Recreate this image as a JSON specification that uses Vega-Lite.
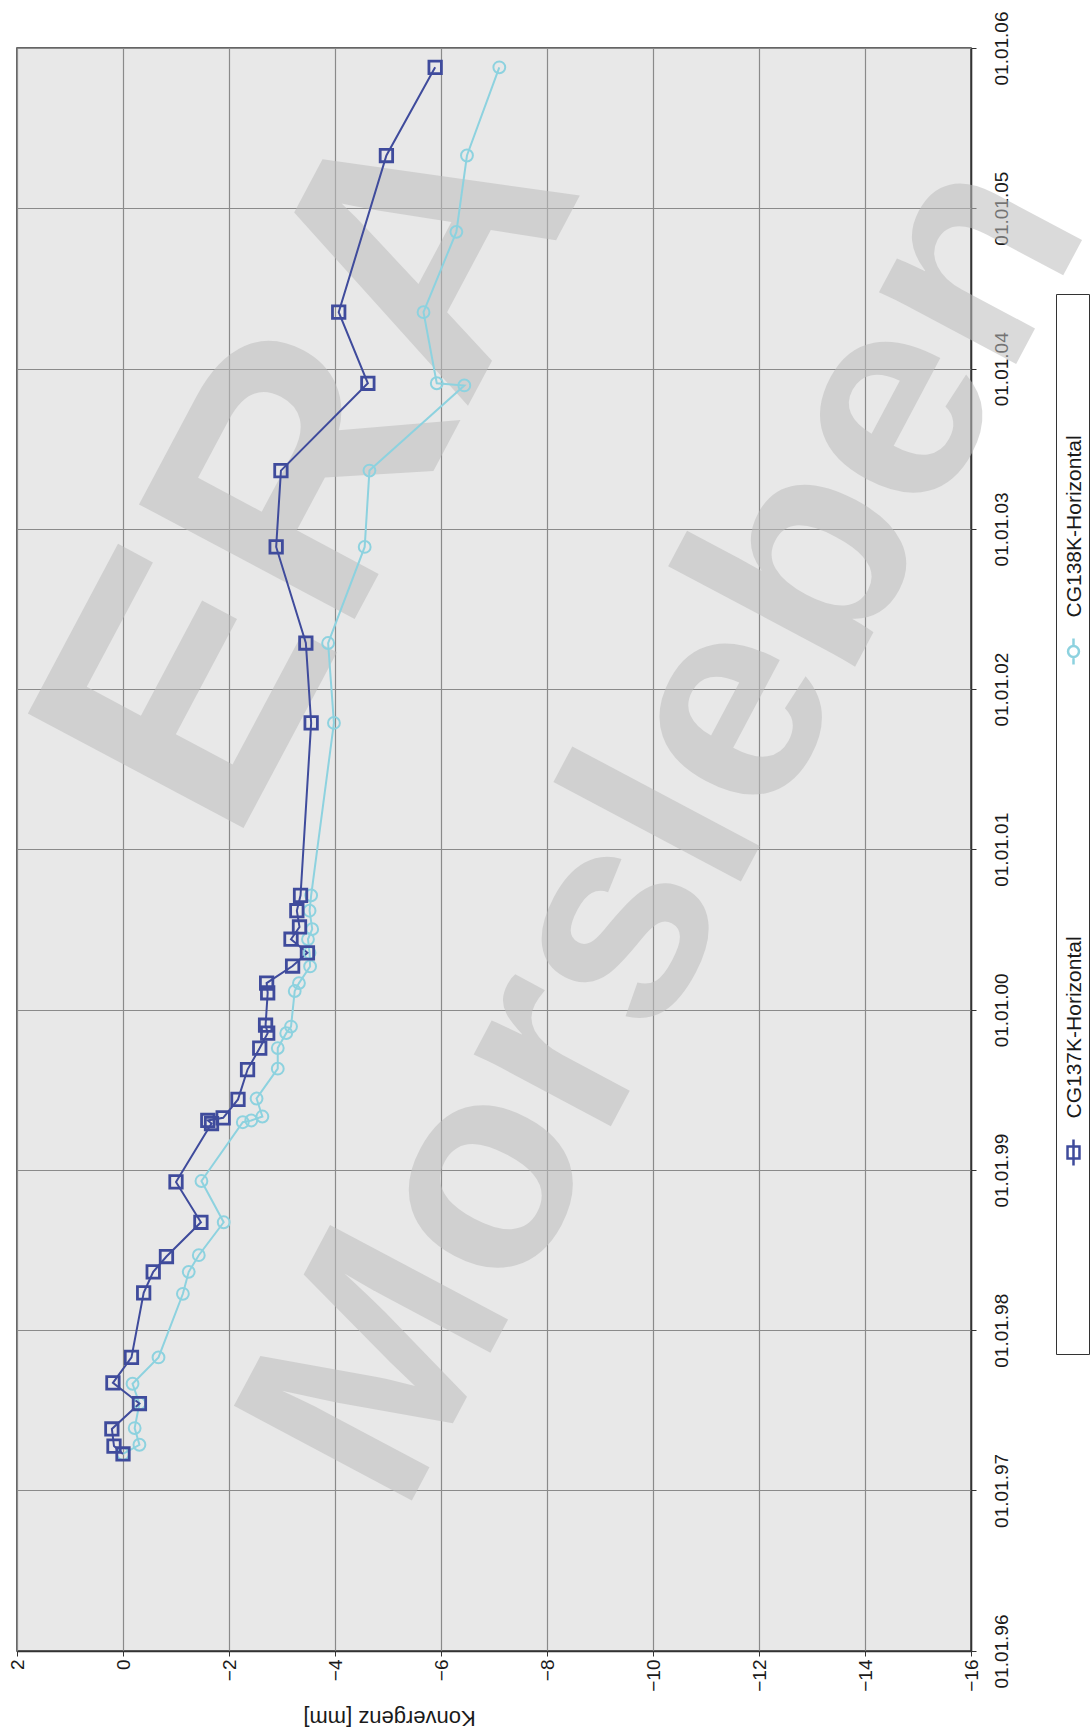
{
  "$schema": "https://vega.github.io/schema/vega-lite/v6.json",
  "width": 954,
  "height": 1603,
  "autosize": {"type": "none"},
  "padding": {"left": 17, "top": 48, "right": 120, "bottom": 82},
  "background": "white",
  "config": {
    "view": {"fill": "#e8e8e8", "stroke": "#333333", "strokeWidth": 1.5},
    "font": "Liberation Sans"
  },
  "datasets": {
    "konv": [
      {"Messstelle": "CG138K-Horizontal", "Datum": "1997-03-25", "Konvergenz": 0.0},
      {"Messstelle": "CG138K-Horizontal", "Datum": "1997-04-15", "Konvergenz": -0.31},
      {"Messstelle": "CG138K-Horizontal", "Datum": "1997-05-23", "Konvergenz": -0.22},
      {"Messstelle": "CG138K-Horizontal", "Datum": "1997-07-18", "Konvergenz": -0.31},
      {"Messstelle": "CG138K-Horizontal", "Datum": "1997-09-01", "Konvergenz": -0.18},
      {"Messstelle": "CG138K-Horizontal", "Datum": "1997-10-31", "Konvergenz": -0.67},
      {"Messstelle": "CG138K-Horizontal", "Datum": "1998-03-25", "Konvergenz": -1.13},
      {"Messstelle": "CG138K-Horizontal", "Datum": "1998-05-14", "Konvergenz": -1.24},
      {"Messstelle": "CG138K-Horizontal", "Datum": "1998-06-21", "Konvergenz": -1.43},
      {"Messstelle": "CG138K-Horizontal", "Datum": "1998-09-04", "Konvergenz": -1.9},
      {"Messstelle": "CG138K-Horizontal", "Datum": "1998-12-07", "Konvergenz": -1.48},
      {"Messstelle": "CG138K-Horizontal", "Datum": "1999-04-20", "Konvergenz": -2.26},
      {"Messstelle": "CG138K-Horizontal", "Datum": "1999-04-24", "Konvergenz": -2.42},
      {"Messstelle": "CG138K-Horizontal", "Datum": "1999-05-03", "Konvergenz": -2.63},
      {"Messstelle": "CG138K-Horizontal", "Datum": "1999-06-13", "Konvergenz": -2.52},
      {"Messstelle": "CG138K-Horizontal", "Datum": "1999-08-20", "Konvergenz": -2.92},
      {"Messstelle": "CG138K-Horizontal", "Datum": "1999-10-06", "Konvergenz": -2.92},
      {"Messstelle": "CG138K-Horizontal", "Datum": "1999-11-09", "Konvergenz": -3.08},
      {"Messstelle": "CG138K-Horizontal", "Datum": "1999-11-24", "Konvergenz": -3.17},
      {"Messstelle": "CG138K-Horizontal", "Datum": "2000-02-13", "Konvergenz": -3.24},
      {"Messstelle": "CG138K-Horizontal", "Datum": "2000-03-02", "Konvergenz": -3.32},
      {"Messstelle": "CG138K-Horizontal", "Datum": "2000-04-09", "Konvergenz": -3.53},
      {"Messstelle": "CG138K-Horizontal", "Datum": "2000-05-10", "Konvergenz": -3.52},
      {"Messstelle": "CG138K-Horizontal", "Datum": "2000-06-10", "Konvergenz": -3.49},
      {"Messstelle": "CG138K-Horizontal", "Datum": "2000-07-03", "Konvergenz": -3.57},
      {"Messstelle": "CG138K-Horizontal", "Datum": "2000-08-14", "Konvergenz": -3.52},
      {"Messstelle": "CG138K-Horizontal", "Datum": "2000-09-18", "Konvergenz": -3.55},
      {"Messstelle": "CG138K-Horizontal", "Datum": "2001-10-16", "Konvergenz": -3.98},
      {"Messstelle": "CG138K-Horizontal", "Datum": "2002-04-16", "Konvergenz": -3.87},
      {"Messstelle": "CG138K-Horizontal", "Datum": "2002-11-21", "Konvergenz": -4.56},
      {"Messstelle": "CG138K-Horizontal", "Datum": "2003-05-14", "Konvergenz": -4.65},
      {"Messstelle": "CG138K-Horizontal", "Datum": "2003-11-24", "Konvergenz": -6.44},
      {"Messstelle": "CG138K-Horizontal", "Datum": "2003-11-29", "Konvergenz": -5.92},
      {"Messstelle": "CG138K-Horizontal", "Datum": "2004-05-09", "Konvergenz": -5.67},
      {"Messstelle": "CG138K-Horizontal", "Datum": "2004-11-08", "Konvergenz": -6.29},
      {"Messstelle": "CG138K-Horizontal", "Datum": "2005-05-01", "Konvergenz": -6.49},
      {"Messstelle": "CG138K-Horizontal", "Datum": "2005-11-18", "Konvergenz": -7.1},
      {"Messstelle": "CG137K-Horizontal", "Datum": "1997-03-25", "Konvergenz": 0.0},
      {"Messstelle": "CG137K-Horizontal", "Datum": "1997-04-12", "Konvergenz": 0.17},
      {"Messstelle": "CG137K-Horizontal", "Datum": "1997-05-21", "Konvergenz": 0.21},
      {"Messstelle": "CG137K-Horizontal", "Datum": "1997-07-18", "Konvergenz": -0.31},
      {"Messstelle": "CG137K-Horizontal", "Datum": "1997-09-03", "Konvergenz": 0.19},
      {"Messstelle": "CG137K-Horizontal", "Datum": "1997-10-31", "Konvergenz": -0.16},
      {"Messstelle": "CG137K-Horizontal", "Datum": "1998-03-27", "Konvergenz": -0.39},
      {"Messstelle": "CG137K-Horizontal", "Datum": "1998-05-14", "Konvergenz": -0.57},
      {"Messstelle": "CG137K-Horizontal", "Datum": "1998-06-18", "Konvergenz": -0.82},
      {"Messstelle": "CG137K-Horizontal", "Datum": "1998-09-04", "Konvergenz": -1.47},
      {"Messstelle": "CG137K-Horizontal", "Datum": "1998-12-05", "Konvergenz": -1.0},
      {"Messstelle": "CG137K-Horizontal", "Datum": "1999-04-17", "Konvergenz": -1.67},
      {"Messstelle": "CG137K-Horizontal", "Datum": "1999-04-24", "Konvergenz": -1.6},
      {"Messstelle": "CG137K-Horizontal", "Datum": "1999-04-30", "Konvergenz": -1.89},
      {"Messstelle": "CG137K-Horizontal", "Datum": "1999-06-11", "Konvergenz": -2.17},
      {"Messstelle": "CG137K-Horizontal", "Datum": "1999-08-18", "Konvergenz": -2.35},
      {"Messstelle": "CG137K-Horizontal", "Datum": "1999-10-06", "Konvergenz": -2.58},
      {"Messstelle": "CG137K-Horizontal", "Datum": "1999-11-09", "Konvergenz": -2.73},
      {"Messstelle": "CG137K-Horizontal", "Datum": "1999-11-27", "Konvergenz": -2.69},
      {"Messstelle": "CG137K-Horizontal", "Datum": "2000-02-09", "Konvergenz": -2.73},
      {"Messstelle": "CG137K-Horizontal", "Datum": "2000-03-02", "Konvergenz": -2.71},
      {"Messstelle": "CG137K-Horizontal", "Datum": "2000-04-10", "Konvergenz": -3.2},
      {"Messstelle": "CG137K-Horizontal", "Datum": "2000-05-10", "Konvergenz": -3.48},
      {"Messstelle": "CG137K-Horizontal", "Datum": "2000-06-10", "Konvergenz": -3.17},
      {"Messstelle": "CG137K-Horizontal", "Datum": "2000-07-08", "Konvergenz": -3.33},
      {"Messstelle": "CG137K-Horizontal", "Datum": "2000-08-14", "Konvergenz": -3.28},
      {"Messstelle": "CG137K-Horizontal", "Datum": "2000-09-18", "Konvergenz": -3.35},
      {"Messstelle": "CG137K-Horizontal", "Datum": "2001-10-16", "Konvergenz": -3.55},
      {"Messstelle": "CG137K-Horizontal", "Datum": "2002-04-16", "Konvergenz": -3.45},
      {"Messstelle": "CG137K-Horizontal", "Datum": "2002-11-21", "Konvergenz": -2.89},
      {"Messstelle": "CG137K-Horizontal", "Datum": "2003-05-14", "Konvergenz": -2.98},
      {"Messstelle": "CG137K-Horizontal", "Datum": "2003-11-29", "Konvergenz": -4.62},
      {"Messstelle": "CG137K-Horizontal", "Datum": "2004-05-09", "Konvergenz": -4.07},
      {"Messstelle": "CG137K-Horizontal", "Datum": "2005-05-01", "Konvergenz": -4.97},
      {"Messstelle": "CG137K-Horizontal", "Datum": "2005-11-18", "Konvergenz": -5.89}
    ],
    "wm": [
      {"Text": "ERA", "Datum": "2003-05-20", "Konvergenz": -3.6, "Gruppe": "a"},
      {"Text": "Morsleben", "Datum": "2001-02-15", "Konvergenz": -10.3, "Gruppe": "b"}
    ]
  },
  "encoding": {
    "x": {
      "field": "Konvergenz",
      "type": "quantitative",
      "scale": {"domain": [2, -16], "nice": false, "zero": false},
      "axis": {
        "orient": "bottom",
        "values": [2, 0, -2, -4, -6, -8, -10, -12, -14, -16],
        "labelAngle": 270,
        "labelAlign": "right",
        "labelBaseline": "middle",
        "labelFontSize": 19,
        "labelColor": "#1a1a1a",
        "labelPadding": 3,
        "labelFlush": false,
        "labelOverlap": false,
        "tickSize": 5,
        "tickColor": "#333333",
        "domainColor": "#333333",
        "domainWidth": 1.5,
        "gridColor": "#8a8a8a",
        "gridWidth": 1.2,
        "gridOpacity": 1,
        "title": "Konvergenz [mm]",
        "titleAngle": 180,
        "titleX": 372,
        "titleY": 66,
        "titleAlign": "center",
        "titleBaseline": "middle",
        "titleFontSize": 22,
        "titleFontWeight": "normal",
        "titleColor": "#1a1a1a"
      }
    },
    "y": {
      "field": "Datum",
      "type": "temporal",
      "scale": {"domain": [{"year": 1996, "month": 1, "date": 1}, {"year": 2006, "month": 1, "date": 1}], "nice": false},
      "axis": {
        "orient": "right",
        "values": [
          {"year": 1996, "month": 1, "date": 1}, {"year": 1997, "month": 1, "date": 1},
          {"year": 1998, "month": 1, "date": 1}, {"year": 1999, "month": 1, "date": 1},
          {"year": 2000, "month": 1, "date": 1}, {"year": 2001, "month": 1, "date": 1},
          {"year": 2002, "month": 1, "date": 1}, {"year": 2003, "month": 1, "date": 1},
          {"year": 2004, "month": 1, "date": 1}, {"year": 2005, "month": 1, "date": 1},
          {"year": 2006, "month": 1, "date": 1}
        ],
        "format": "%d.%m.%y",
        "labelAngle": 270,
        "labelAlign": "center",
        "labelBaseline": "top",
        "labelFontSize": 19,
        "labelColor": "#1a1a1a",
        "labelPadding": 16,
        "labelFlush": false,
        "labelOverlap": false,
        "tickSize": 5,
        "tickColor": "#333333",
        "domainColor": "#333333",
        "domainWidth": 1.5,
        "gridColor": "#8a8a8a",
        "gridWidth": 1.2,
        "gridOpacity": 1,
        "title": null
      }
    }
  },
  "layer": [
    {
      "data": {"name": "wm"},
      "mark": {"type": "text", "angle": -62, "fontWeight": "bold", "font": "Liberation Sans", "color": "#bdbdbd", "opacity": 0.55, "align": "center", "baseline": "middle"},
      "encoding": {
        "text": {"field": "Text", "type": "nominal"},
        "size": {"field": "Gruppe", "type": "nominal", "scale": {"domain": ["a", "b"], "range": [355, 293]}, "legend": null}
      }
    },
    {
      "data": {"name": "konv"},
      "mark": {"type": "line", "strokeWidth": 2},
      "encoding": {
        "order": {"field": "Datum", "type": "temporal"},
        "color": {
          "field": "Messstelle",
          "type": "nominal",
          "scale": {"domain": ["CG138K-Horizontal", "CG137K-Horizontal"], "range": ["#8dd2df", "#3f4b9c"]},
          "legend": {
            "title": "\u00a0",
            "titleFontSize": 10,
            "titlePadding": 330,
            "titleOrient": "top",
            "orient": "none",
            "legendX": 1039,
            "legendY": 246,
            "direction": "vertical",
            "padding": 3,
            "rowPadding": 266,
            "fillColor": "white",
            "strokeColor": "#333333",
            "symbolSize": 676,
            "symbolStrokeWidth": 2.5,
            "labelFontSize": 21,
            "labelColor": "#1a1a1a",
            "labelLimit": 2000,
            "labelOffset": 0,
            "encode": {
              "symbols": {
                "update": {
                  "shape": {"signal": "datum.value === 'CG137K-Horizontal' ? 'M0,-1V1M-0.46,-0.46H0.46V0.46H-0.46ZM0,14.85' : 'M0,-1V-0.42M0,0.42V1M0.42,0A0.42,0.42,0,1,1,-0.42,0A0.42,0.42,0,1,1,0.42,0'"},
                  "fill": {"value": "transparent"},
                  "strokeWidth": {"value": 2.5}
                }
              },
              "labels": {
                "update": {
                  "angle": {"value": -90},
                  "align": {"value": "left"},
                  "baseline": {"value": "middle"},
                  "dx": {"value": 34},
                  "dy": {"value": -13}
                }
              }
            }
          }
        }
      }
    },
    {
      "data": {"name": "konv"},
      "transform": [{"filter": "datum.Messstelle === 'CG138K-Horizontal'"}],
      "mark": {"type": "point", "shape": "circle", "filled": false, "size": 140, "strokeWidth": 2, "color": "#8dd2df", "opacity": 1}
    },
    {
      "data": {"name": "konv"},
      "transform": [{"filter": "datum.Messstelle === 'CG137K-Horizontal'"}],
      "mark": {"type": "point", "shape": "square", "filled": false, "size": 155, "strokeWidth": 2.8, "color": "#3f4b9c", "opacity": 1}
    }
  ]
}
